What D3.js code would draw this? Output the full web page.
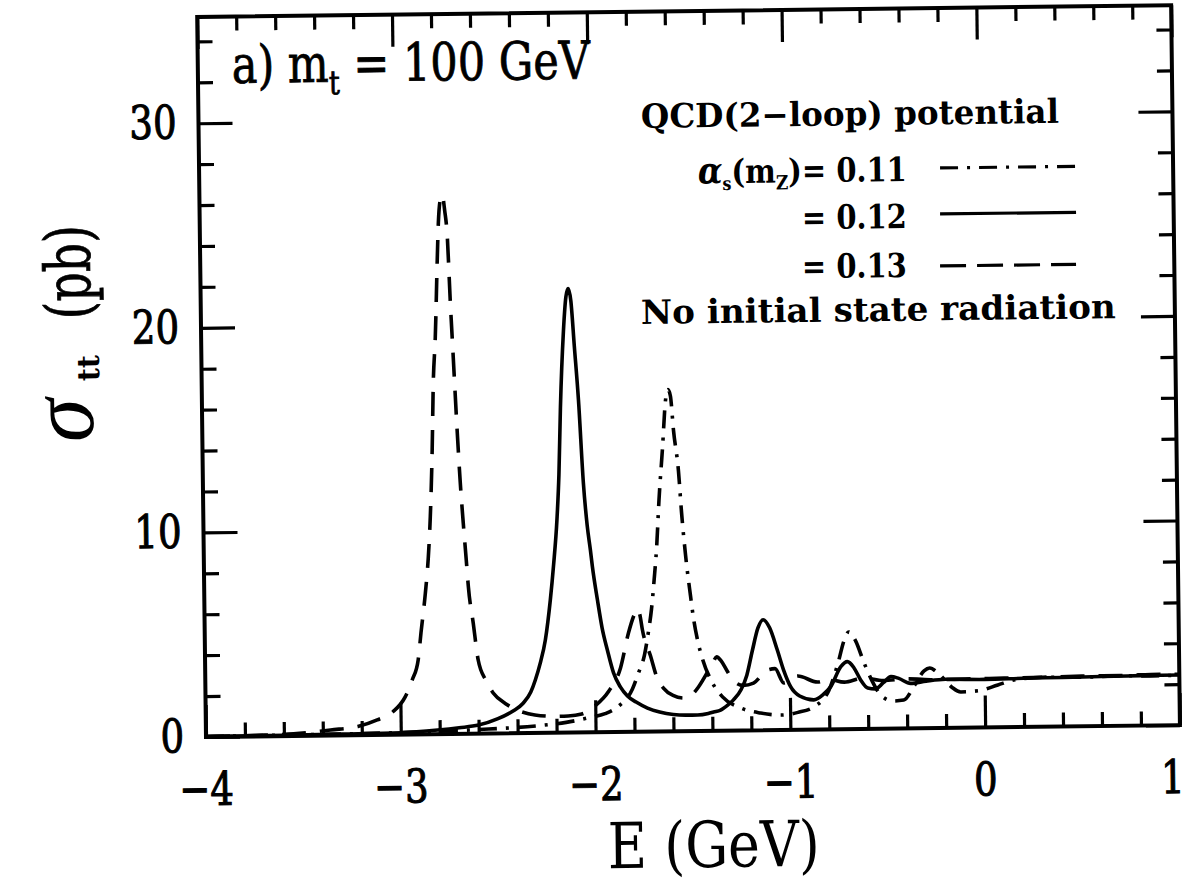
<!DOCTYPE html>
<html><head><meta charset="utf-8">
<script src="https://cdn.jsdelivr.net/npm/d3@7"></script>
<style>body{margin:0;background:#fff}svg{display:block}</style>
</head><body>
<svg id="chart" width="1189" height="891"></svg>
<script>
// ---------- data (E in GeV, sigma in pb) ----------
const xMajorTicks = [-4, -3, -2, -1, 0, 1];
const xTickLabels = ["\u22124", "\u22123", "\u22122", "\u22121", "0", "1"];
const yMajorTicks = [0, 10, 20, 30];
const yTickLabels = ["0", "10", "20", "30"];
const seriesLabels = ["0.11", "0.12", "0.13"];

const sigma_as011 = [
 [-4.0,0.02],[-3.5,0.05],[-3.0,0.1],[-2.6,0.2],[-2.3,0.35],[-2.15,0.5],[-2.03,0.72],[-1.95,0.9],
 [-1.886,1.22],[-1.808,2.09],[-1.776,2.87],[-1.744,3.75],[-1.722,4.9],[-1.705,6.0],[-1.69,7.4],
 [-1.675,9.0],[-1.66,11.3],[-1.639,13.8],[-1.62,16.2],[-1.607,16.7],[-1.595,16.4],[-1.581,14.7],
 [-1.558,12.7],[-1.545,10.7],[-1.527,8.6],[-1.504,6.6],[-1.49,5.5],[-1.471,4.45],[-1.446,3.5],
 [-1.40,2.4],[-1.346,1.65],[-1.254,1.1],[-1.152,0.84],[-1.044,0.73],[-0.96,0.85],[-0.88,1.1],
 [-0.80,1.9],[-0.748,3.34],[-0.72,4.3],[-0.694,4.75],[-0.659,4.3],[-0.619,3.27],[-0.575,2.3],
 [-0.534,1.65],[-0.47,1.35],[-0.416,1.39],[-0.36,2.1],[-0.31,2.8],[-0.281,2.94],[-0.24,2.7],
 [-0.17,2.0],[-0.123,1.75],[-0.03,1.8],[0.068,2.07],[0.15,2.3],[0.3,2.42],[0.5,2.4],[0.7,2.45],
 [0.85,2.42],[1.0,2.44]
];
const sigma_as012 = [
 [-4.0,0.02],[-3.6,0.04],[-3.3,0.06],[-3.0,0.09],[-2.81,0.2],[-2.7,0.3],[-2.6,0.42],[-2.5,0.72],
 [-2.42,1.1],[-2.37,1.46],[-2.33,2.0],[-2.306,2.59],[-2.28,3.4],[-2.252,4.54],[-2.224,6.49],
 [-2.205,8.2],[-2.185,10.4],[-2.172,12.6],[-2.16,15.9],[-2.14,19.6],[-2.125,21.3],[-2.113,21.7],
 [-2.10,21.1],[-2.085,18.9],[-2.067,16.25],[-2.047,12.2],[-2.03,10.1],[-2.015,8.9],[-2.006,8.1],
 [-1.982,6.46],[-1.96,5.1],[-1.934,4.0],[-1.904,2.89],[-1.87,2.2],[-1.834,1.75],[-1.79,1.45],
 [-1.732,1.15],[-1.67,0.95],[-1.6,0.82],[-1.53,0.78],[-1.475,0.78],[-1.42,0.85],[-1.393,0.92],
 [-1.357,1.01],[-1.32,1.25],[-1.29,1.5],[-1.25,2.0],[-1.22,2.7],[-1.19,3.9],[-1.16,5.0],
 [-1.133,5.4],[-1.10,5.0],[-1.062,3.91],[-1.03,2.9],[-0.996,2.11],[-0.95,1.65],[-0.877,1.45],
 [-0.83,1.7],[-0.79,2.09],[-0.737,3.06],[-0.703,3.3],[-0.67,3.0],[-0.636,2.4],[-0.60,2.0],
 [-0.56,1.95],[-0.52,2.25],[-0.48,2.55],[-0.44,2.45],[-0.38,2.2],[-0.3,2.3],[-0.2,2.38],
 [0.0,2.35],[0.2,2.38],[0.4,2.4],[0.6,2.42],[0.8,2.44],[1.0,2.45]
];
const sigma_as013 = [
 [-4.0,0.02],[-3.75,0.05],[-3.55,0.1],[-3.36,0.27],[-3.22,0.42],[-3.12,0.73],[-3.04,1.11],
 [-2.975,1.84],[-2.938,2.66],[-2.906,3.64],[-2.89,4.96],[-2.865,6.9],[-2.848,8.6],[-2.835,10.6],
 [-2.821,13.9],[-2.811,17.2],[-2.798,19.4],[-2.783,23.2],[-2.775,25.0],[-2.762,26.2],[-2.753,26.35],
 [-2.742,25.6],[-2.73,24.3],[-2.719,21.2],[-2.707,18.4],[-2.691,14.7],[-2.679,12.3],[-2.666,10.3],
 [-2.653,8.5],[-2.644,7.2],[-2.621,5.4],[-2.598,3.6],[-2.56,2.6],[-2.523,1.98],[-2.46,1.45],
 [-2.40,1.13],[-2.31,0.88],[-2.2,0.8],[-2.14,0.81],[-2.07,0.9],[-2.0,1.3],[-1.93,2.0],
 [-1.868,3.13],[-1.825,4.83],[-1.795,5.7],[-1.777,6.0],[-1.765,5.7],[-1.753,4.97],[-1.713,3.69],
 [-1.68,2.6],[-1.649,2.12],[-1.60,1.75],[-1.546,1.62],[-1.50,1.8],[-1.469,2.15],[-1.42,2.9],
 [-1.39,3.4],[-1.374,3.61],[-1.35,3.4],[-1.32,2.9],[-1.288,2.42],[-1.24,2.2],[-1.186,2.31],
 [-1.113,2.94],[-1.075,3.0],[-1.031,2.3],[-0.959,2.63],[-0.857,2.32],[-0.8,2.45],[-0.72,2.3],
 [-0.62,2.5],[-0.52,2.35],[-0.4,2.42],[-0.25,2.36],[-0.1,2.38],[0.1,2.4],[0.3,2.42],[0.5,2.45],
 [0.7,2.46],[0.9,2.5],[1.0,2.48]
];

// ---------- layout ----------
const svg = d3.select("#chart");
svg.append("rect").attr("width",1189).attr("height",891).attr("fill","#fff");
const PX = 206, PY = 737, ANG = -0.7;            // scan is slightly rotated
const sn = Math.sin(-ANG*Math.PI/180);
function U(X, Y){ const dx = X-PX, dy = Y-PY; return [PX + dx - sn*dy, PY + sn*dx + dy]; }
const g = svg.append("g").attr("transform", `rotate(${ANG},${PX},${PY})`);

const x = d3.scaleLinear().domain([-4, 1]).range([206, 1180]);
const y = d3.scaleLinear().domain([0, 30]).range([737, 123.2]);
const yTop = 35.19;
const SERIF = "'DejaVu Serif', 'Liberation Serif', serif";

// curves
const line = d3.line().x(d => x(d[0])).y(d => y(d[1])).curve(d3.curveMonotoneX);
const series = [
  {data: sigma_as011, dash: "18,9,3,9"},
  {data: sigma_as012, dash: null},
  {data: sigma_as013, dash: "24,14"}
];
series.forEach(s => {
  g.append("path").attr("d", line(s.data)).attr("fill","none").attr("stroke","#000")
   .attr("stroke-width",3.6).attr("stroke-dasharray", s.dash).attr("stroke-linejoin","round");
});

// axes (inward ticks on all four sides)
const xMinor = d3.range(-4, 1.0001, 0.2).filter(v => Math.abs(v - Math.round(v)) > 1e-6);
const yMinor = d3.range(0, 35, 2).filter(v => v % 10 !== 0);
function styleAxis(sel){
  sel.select(".domain").remove();
  sel.selectAll("text").remove();
  sel.selectAll("line").attr("stroke","#000").attr("stroke-width",3.2);
}
[[xMajorTicks,-32],[xMinor,-14]].forEach(([vals,sz]) => {
  g.append("g").attr("transform",`translate(0,${y(0)})`).call(d3.axisBottom(x).tickValues(vals).tickSize(sz)).call(styleAxis);
  g.append("g").attr("transform",`translate(0,${y(yTop)})`).call(d3.axisTop(x).tickValues(vals).tickSize(sz)).call(styleAxis);
});
[[yMajorTicks,-34],[yMinor,-15]].forEach(([vals,sz]) => {
  g.append("g").attr("transform",`translate(${x(-4)},0)`).call(d3.axisLeft(y).tickValues(vals).tickSize(sz)).call(styleAxis);
  g.append("g").attr("transform",`translate(${x(1)},0)`).call(d3.axisRight(y).tickValues(vals).tickSize(sz)).call(styleAxis);
});
// frame
g.append("rect").attr("x",x(-4)).attr("y",y(yTop)).attr("width",x(1)-x(-4)).attr("height",y(0)-y(yTop))
 .attr("fill","none").attr("stroke","#000").attr("stroke-width",4);

// tick labels
xMajorTicks.forEach((t,i) => {
  const last = i === xMajorTicks.length-1;
  g.append("text").attr("transform",`translate(${last ? x(t)+4 : x(t)},${y(0)+68}) scale(1,1.25)`)
   .attr("text-anchor", last ? "end" : "middle").attr("font-family",SERIF).attr("font-size",37)
   .attr("stroke","#000").attr("stroke-width",0.9).text(xTickLabels[i]);
});
yMajorTicks.forEach((t,i) => {
  g.append("text").attr("transform",`translate(${x(-4)-22},${y(t)+15}) scale(1,1.25)`)
   .attr("text-anchor","end").attr("font-family",SERIF).attr("font-size",37)
   .attr("stroke","#000").attr("stroke-width",0.9).text(yTickLabels[i]);
});

// helper for text placed at image coordinates
function txt(X, Y, sy, anchor, rot){
  const [ux,uy] = U(X,Y);
  return g.append("text").attr("transform",`translate(${ux},${uy})${rot ? " rotate("+rot+")" : ""} scale(1,${sy})`)
    .attr("text-anchor",anchor||"start").attr("font-family",SERIF);
}

// axis titles
txt(714, 867, 1.38, "middle").attr("font-size",46)
  .attr("textLength",212).attr("lengthAdjust","spacingAndGlyphs").text("E (GeV)");
txt(93, 420, 1.05, "middle", -90).attr("font-family","'Liberation Serif', serif").attr("font-style","italic")
  .attr("font-size",88).text("\u03C3");
txt(99, 368, 1.1, "middle", -90).attr("font-size",28).attr("font-weight","bold").text("tt");
txt(90, 272, 1.5, "middle", -90).attr("font-size",42).attr("stroke","#000").attr("stroke-width",0.5)
  .attr("textLength",94).attr("lengthAdjust","spacingAndGlyphs").text("(pb)");

// panel annotation
{
  const t = txt(232, 83, 1.38).attr("font-size",38).attr("stroke","#000").attr("stroke-width",0.6)
    .attr("textLength",358).attr("lengthAdjust","spacingAndGlyphs");
  t.append("tspan").text("a) m");
  t.append("tspan").attr("dy",9).attr("font-size",24).text("t");
  t.append("tspan").attr("dy",-9).text(" = 100 GeV");
}

// legend
const LF = 29, LSY = 1.15;
txt(641, 128, LSY).attr("font-size",LF).attr("font-weight","bold").attr("textLength",418).attr("lengthAdjust","spacingAndGlyphs").text("QCD(2\u2212loop) potential");
{
  const t = txt(907, 181, LSY, "end").attr("font-size",LF).attr("font-weight","bold");
  t.append("tspan").attr("font-style","italic").attr("font-size",32).text("\u03B1");
  t.append("tspan").attr("dy",6).attr("font-size",16).text("s");
  t.append("tspan").attr("dy",-6).text("(m");
  t.append("tspan").attr("dy",6).attr("font-size",17).text("Z");
  t.append("tspan").attr("dy",-6).text(")= " + seriesLabels[0]);
}
txt(907, 228, LSY, "end").attr("font-size",LF).attr("font-weight","bold").text("= " + seriesLabels[1]);
txt(907, 277, LSY, "end").attr("font-size",LF).attr("font-weight","bold").text("= " + seriesLabels[2]);
txt(641, 324, LSY).attr("font-size",LF).attr("font-weight","bold").attr("textLength",475).attr("lengthAdjust","spacingAndGlyphs").text("No initial state radiation");

const legendRows = [168, 214, 266];
series.forEach((s,i) => {
  const [x1,y1] = U(940, legendRows[i]);
  const [x2] = U(1076, legendRows[i]);
  g.append("line").attr("x1",x1).attr("x2",x2).attr("y1",y1).attr("y2",y1)
   .attr("stroke","#000").attr("stroke-width",3.2).attr("stroke-dasharray", s.dash ? (i===2 ? "26,11" : s.dash) : null);
});
</script>
</body></html>
